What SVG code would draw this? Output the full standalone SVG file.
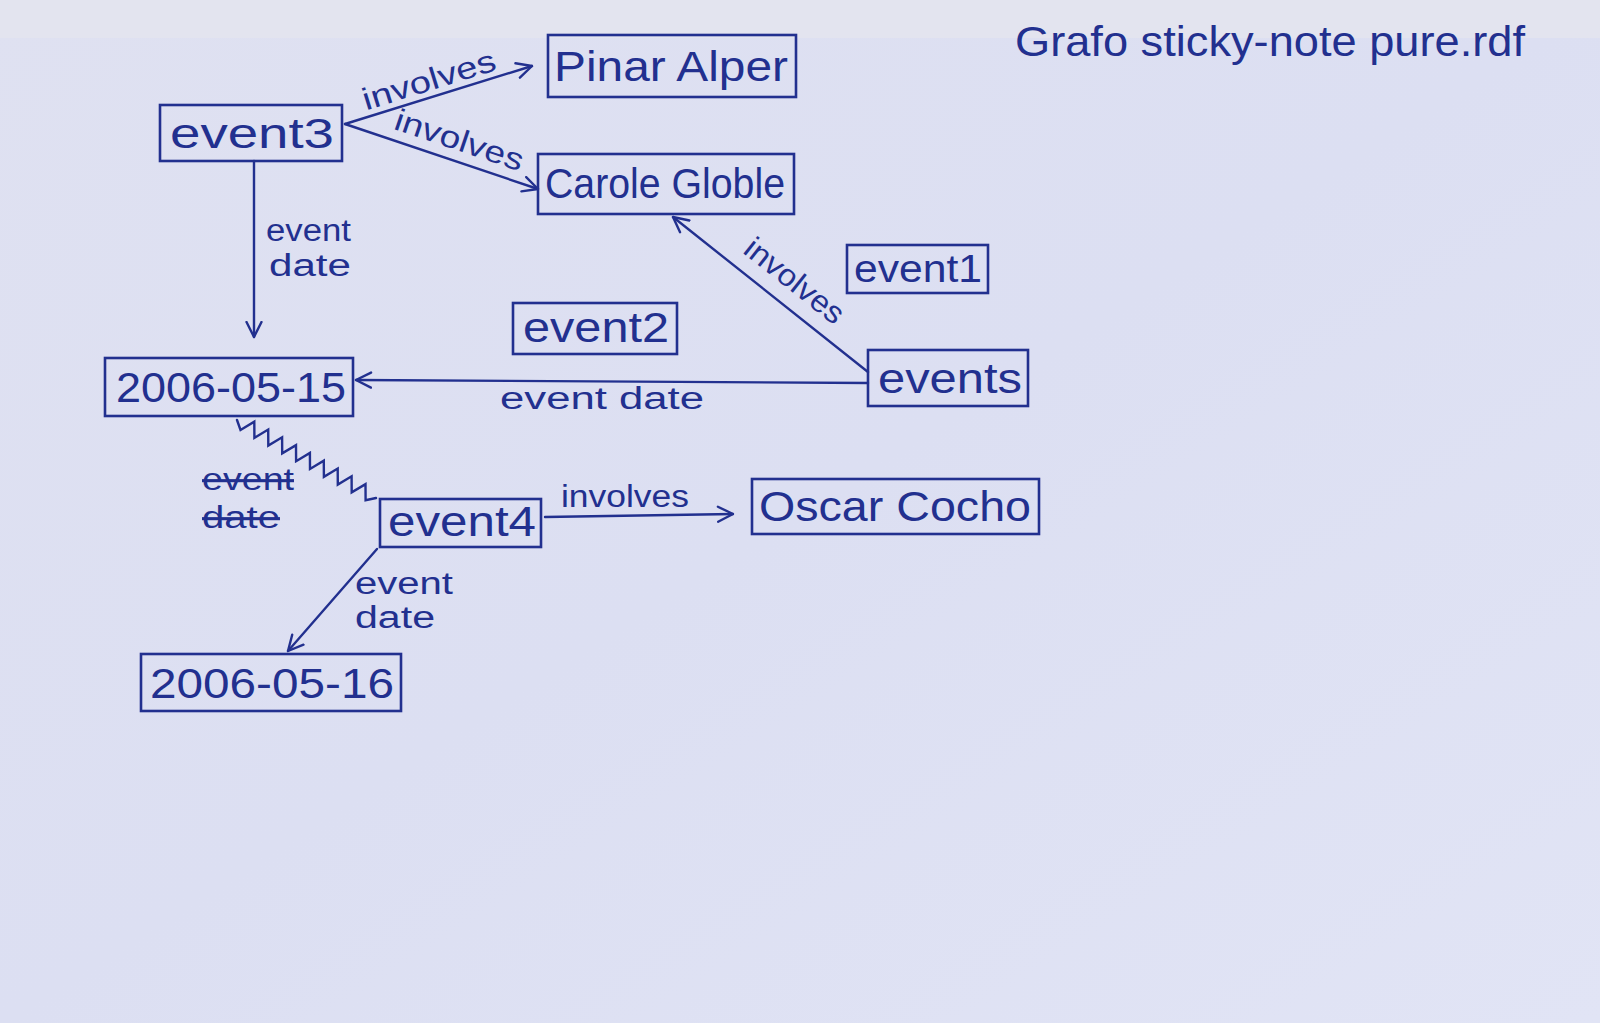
<svg xmlns="http://www.w3.org/2000/svg" width="1600" height="1023" viewBox="0 0 1600 1023">
  <defs>
    <linearGradient id="paper" x1="0" y1="0" x2="1" y2="1">
      <stop offset="0" stop-color="#dfe1f1"/>
      <stop offset="0.5" stop-color="#dcdff2"/>
      <stop offset="1" stop-color="#e1e4f5"/>
    </linearGradient>
    <marker id="arr" viewBox="0 0 12 12" refX="11" refY="6" markerWidth="18" markerHeight="18" markerUnits="userSpaceOnUse" orient="auto">
      <path d="M1,1 L11,6 L1,11" fill="none" stroke="#22308f" stroke-width="1.6" stroke-linecap="round" stroke-linejoin="round"/>
    </marker>
    <style>
      .box { fill: none; stroke: #22308f; stroke-width: 2.6; }
      .lbl { font-family: "Liberation Sans", "DejaVu Sans", sans-serif; font-size: 42px; fill: #22308f; text-anchor: middle; }
      .sm { font-size: 38px; }
      .elbl { font-family: "Liberation Sans", "DejaVu Sans", sans-serif; font-size: 31px; fill: #22308f; }
      .mid { text-anchor: middle; }
      .edge { fill: none; stroke: #22308f; stroke-width: 2.4; stroke-linecap: round; }
      .title { font-family: "Liberation Sans", "DejaVu Sans", sans-serif; font-size: 42px; fill: #22308f; }
    </style>
  </defs>

  <rect x="0" y="0" width="1600" height="1023" fill="url(#paper)"/>
  <rect x="0" y="0" width="1600" height="38" fill="#e3e4ef"/>

  <text class="title" x="1015" y="56" textLength="510" lengthAdjust="spacingAndGlyphs">Grafo sticky-note pure.rdf</text>

  <g id="connectors">
    <line class="edge" x1="345" y1="124" x2="532" y2="66" marker-end="url(#arr)"/>
    <text class="elbl mid" x="432" y="90" transform="rotate(-17.2 432 90)" textLength="138" lengthAdjust="spacingAndGlyphs">involves</text>

    <line class="edge" x1="345" y1="124" x2="538" y2="189" marker-end="url(#arr)"/>
    <text class="elbl mid" x="456" y="150" transform="rotate(18.6 456 150)" textLength="134" lengthAdjust="spacingAndGlyphs">involves</text>

    <line class="edge" x1="254" y1="161" x2="254" y2="337" marker-end="url(#arr)"/>
    <text class="elbl" x="266" y="241" textLength="85" lengthAdjust="spacingAndGlyphs">event</text>
    <text class="elbl" x="269" y="276" textLength="82" lengthAdjust="spacingAndGlyphs">date</text>

    <line class="edge" x1="868" y1="372" x2="673" y2="217" marker-end="url(#arr)"/>
    <text class="elbl mid" x="788" y="289" transform="rotate(38.5 788 289)" textLength="118" lengthAdjust="spacingAndGlyphs">involves</text>

    <line class="edge" x1="868" y1="383" x2="356" y2="380" marker-end="url(#arr)"/>
    <text class="elbl mid" x="602" y="409" textLength="204" lengthAdjust="spacingAndGlyphs">event date</text>

    <line class="edge" x1="545" y1="517" x2="733" y2="514" marker-end="url(#arr)"/>
    <text class="elbl mid" x="625" y="507" textLength="128" lengthAdjust="spacingAndGlyphs">involves</text>

    <line class="edge" x1="377" y1="549" x2="288" y2="651" marker-end="url(#arr)"/>
    <text class="elbl" x="355" y="594" font-size="29" textLength="98" lengthAdjust="spacingAndGlyphs">event</text>
    <text class="elbl" x="355" y="628" font-size="29" textLength="80" lengthAdjust="spacingAndGlyphs">date</text>

    <polyline class="edge" stroke-width="2.2" points="237,420 240.5,430 254.3,421.7 254.4,437.8 268.2,429.5 268.3,445.6 282.1,437.3 282.2,453.4 296,445.1 296.1,461.2 309.9,452.9 310,469 323.8,460.7 323.9,476.8 337.7,468.5 337.8,484.6 351.6,476.3 351.7,492.4 365.5,484.1 365.6,500.2 376,498"/>
    <text class="elbl" x="202" y="490" font-size="28" text-decoration="line-through" textLength="92" lengthAdjust="spacingAndGlyphs">event</text>
    <text class="elbl" x="202" y="528" font-size="28" text-decoration="line-through" textLength="78" lengthAdjust="spacingAndGlyphs">date</text>
  </g>

  <g id="event3">
    <rect class="box" x="160" y="105" width="182" height="56"/>
    <text class="lbl" x="252" y="148" textLength="164" lengthAdjust="spacingAndGlyphs">event3</text>
  </g>
  <g id="pinar-alper">
    <rect class="box" x="548" y="35" width="248" height="62"/>
    <text class="lbl" x="671" y="81" textLength="234" lengthAdjust="spacingAndGlyphs">Pinar Alper</text>
  </g>
  <g id="carole-globle">
    <rect class="box" x="538" y="154" width="256" height="60"/>
    <text class="lbl" x="665" y="198" textLength="240" lengthAdjust="spacingAndGlyphs">Carole Globle</text>
  </g>
  <g id="event1">
    <rect class="box" x="847" y="245" width="141" height="48"/>
    <text class="lbl sm" x="918" y="282" textLength="128" lengthAdjust="spacingAndGlyphs">event1</text>
  </g>
  <g id="event2">
    <rect class="box" x="513" y="303" width="164" height="51"/>
    <text class="lbl" x="596" y="342" textLength="146" lengthAdjust="spacingAndGlyphs">event2</text>
  </g>
  <g id="events">
    <rect class="box" x="868" y="350" width="160" height="56"/>
    <text class="lbl" x="950" y="393" textLength="144" lengthAdjust="spacingAndGlyphs">events</text>
  </g>
  <g id="date-2006-05-15">
    <rect class="box" x="105" y="358" width="248" height="58"/>
    <text class="lbl" x="231" y="402" textLength="230" lengthAdjust="spacingAndGlyphs">2006-05-15</text>
  </g>
  <g id="event4">
    <rect class="box" x="380" y="499" width="161" height="48"/>
    <text class="lbl" x="462" y="536" textLength="148" lengthAdjust="spacingAndGlyphs">event4</text>
  </g>
  <g id="oscar-cocho">
    <rect class="box" x="752" y="479" width="287" height="55"/>
    <text class="lbl" x="895" y="521" textLength="272" lengthAdjust="spacingAndGlyphs">Oscar Cocho</text>
  </g>
  <g id="date-2006-05-16">
    <rect class="box" x="141" y="654" width="260" height="57"/>
    <text class="lbl" x="272" y="698" textLength="244" lengthAdjust="spacingAndGlyphs">2006-05-16</text>
  </g>
</svg>
